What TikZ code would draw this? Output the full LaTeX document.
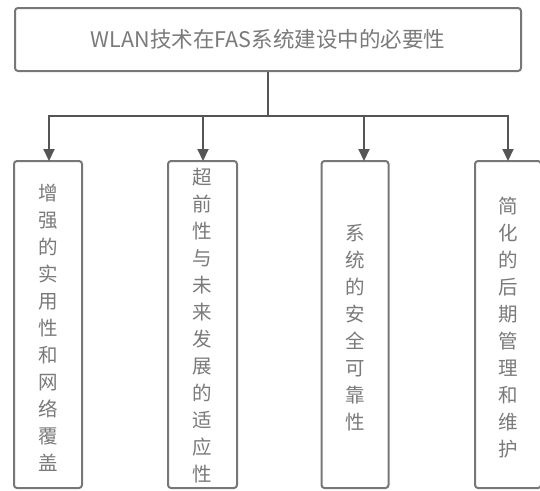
\documentclass[tikz,border=0pt]{standalone}
\usepackage{fontspec}
\newfontfamily\cjk{Noto Sans CJK SC}
\usetikzlibrary{arrows.meta}
\definecolor{boxgray}{HTML}{777777}
\definecolor{txtgray}{HTML}{7A7A7A}
\definecolor{linegray}{HTML}{555555}
\begin{document}
\begin{tikzpicture}[x=1pt,y=-1pt,
  box/.style={draw=boxgray, line width=2pt, rounded corners=3pt, fill=white},
  vbox/.style={box, minimum width=#1, minimum height=327pt, inner sep=0pt},
  vtext/.style={text=txtgray, align=center, inner sep=0pt, font=\cjk\fontsize{19.5}{27}\selectfont},
  conn/.style={draw=linegray, line width=2pt},
  arr/.style={conn, -{Triangle[length=12pt,width=11pt]}, shorten >=-1pt}]
\useasboundingbox (0,0) rectangle (540,490);
\node[box, minimum width=506pt, minimum height=63pt, text=txtgray,
      font=\cjk\fontsize{21.5}{24}\selectfont] (top) at (268,39.5) {WLAN技术在FAS系统建设中的必要性};
\node[vbox=68pt] (b1) at (48,324.5) {};
\node[vbox=69pt] (b2) at (202.5,324.5) {};
\node[vbox=67pt] (b3) at (355,324.5) {};
\node[vbox=66pt] (b4) at (508,324.5) {};
\node[vtext] (t1) at (48,328) {增\\强\\的\\实\\用\\性\\和\\网\\络\\覆\\盖};
\node[vtext] (t2) at (202.5,326) {超\\前\\性\\与\\未\\来\\发\\展\\的\\适\\应\\性};
\node[vtext] (t3) at (355,328) {系\\统\\的\\安\\全\\可\\靠\\性};
\node[vtext] (t4) at (508,328) {简\\化\\的\\后\\期\\管\\理\\和\\维\\护};
\coordinate (hub) at (268,116);
\draw[conn] (top.south) -- (hub);
\draw[arr] (hub) -| ([xshift=1pt]b1.north);
\draw[arr] (hub) -| ([xshift=0.5pt]b2.north);
\draw[arr] (hub) -| ([xshift=9pt]b3.north);
\draw[arr] (hub) -| (b4.north);
\end{tikzpicture}
\end{document}
